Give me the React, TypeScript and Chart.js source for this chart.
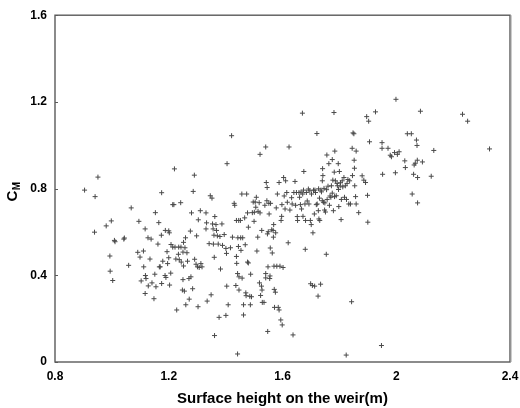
import React, { useEffect, useRef } from "react";
import { Chart, registerables } from "chart.js";

Chart.register(...registerables);

const xTitle = "Surface height on the weir(m)";
const yTitleMain = "C";
const yTitleSub = "M";
const xTicks = [0.8, 1.2, 1.6, 2, 2.4];
const yTicks = [0, 0.4, 0.8, 1.2, 1.6];

const heightValues = [
  0.904, 0.941, 0.951, 0.939, 0.980, 0.998, 1.009, 1.011, 0.993, 0.994, 1.003, 1.042, 1.044, 1.068, 1.059, 1.095, 1.091, 1.099, 1.111, 1.117,
  1.112, 1.103, 1.118, 1.120, 1.117, 1.127, 1.138, 1.134, 1.128, 1.141, 1.148, 1.153, 1.151, 1.165, 1.162, 1.155, 1.167, 1.175, 1.174, 1.170,
  1.175, 1.179, 1.188, 1.187, 1.190, 1.194, 1.196, 1.200, 1.202, 1.203, 1.207, 1.208, 1.200, 1.214, 1.218, 1.220, 1.214, 1.222, 1.225, 1.228,
  1.234, 1.237, 1.235, 1.242, 1.243, 1.244, 1.248, 1.250, 1.250, 1.252, 1.255, 1.252, 1.257, 1.259, 1.260, 1.264, 1.266, 1.271, 1.272, 1.276,
  1.278, 1.280, 1.284, 1.286, 1.290, 1.291, 1.296, 1.298, 1.301, 1.303, 1.304, 1.307, 1.311, 1.313, 1.317, 1.331, 1.331, 1.333, 1.335, 1.342,
  1.346, 1.349, 1.352, 1.354, 1.356, 1.359, 1.357, 1.361, 1.360, 1.362, 1.366, 1.368, 1.371, 1.374, 1.377, 1.380, 1.382, 1.387, 1.389, 1.395,
  1.401, 1.401, 1.403, 1.404, 1.405, 1.409, 1.417, 1.421, 1.424, 1.430, 1.432, 1.436, 1.438, 1.438, 1.439, 1.442, 1.442, 1.443, 1.445, 1.446,
  1.447, 1.447, 1.452, 1.453, 1.454, 1.457, 1.458, 1.460, 1.463, 1.463, 1.467, 1.469, 1.471, 1.472, 1.474, 1.477, 1.477, 1.480, 1.480, 1.485,
  1.487, 1.488, 1.491, 1.494, 1.497, 1.500, 1.501, 1.504, 1.506, 1.508, 1.510, 1.513, 1.514, 1.518, 1.519, 1.521, 1.521, 1.523, 1.526, 1.527,
  1.528, 1.529, 1.535, 1.538, 1.541, 1.541, 1.541, 1.543, 1.545, 1.546, 1.547, 1.548, 1.549, 1.550, 1.552, 1.553, 1.555, 1.556, 1.557, 1.558,
  1.562, 1.564, 1.567, 1.568, 1.569, 1.570, 1.571, 1.572, 1.575, 1.576, 1.578, 1.580, 1.582, 1.585, 1.588, 1.588, 1.591, 1.594, 1.595, 1.597,
  1.598, 1.599, 1.602, 1.604, 1.606, 1.609, 1.611, 1.615, 1.617, 1.620, 1.623, 1.626, 1.632, 1.634, 1.637, 1.640, 1.644, 1.646, 1.649, 1.652,
  1.653, 1.658, 1.660, 1.663, 1.665, 1.667, 1.670, 1.671, 1.672, 1.674, 1.675, 1.679, 1.680, 1.681, 1.684, 1.687, 1.691, 1.693, 1.696, 1.698,
  1.699, 1.701, 1.702, 1.705, 1.707, 1.709, 1.712, 1.713, 1.714, 1.716, 1.719, 1.721, 1.722, 1.725, 1.726, 1.727, 1.728, 1.730, 1.731, 1.734,
  1.735, 1.737, 1.740, 1.740, 1.741, 1.742, 1.744, 1.746, 1.748, 1.749, 1.751, 1.754, 1.755, 1.756, 1.757, 1.760, 1.763, 1.765, 1.767, 1.770,
  1.772, 1.775, 1.775, 1.777, 1.781, 1.779, 1.782, 1.783, 1.784, 1.786, 1.789, 1.792, 1.793, 1.796, 1.797, 1.798, 1.800, 1.803, 1.804, 1.806,
  1.807, 1.810, 1.812, 1.816, 1.818, 1.821, 1.824, 1.825, 1.827, 1.830, 1.833, 1.836, 1.839, 1.843, 1.845, 1.846, 1.848, 1.851, 1.852, 1.853,
  1.854, 1.857, 1.859, 1.859, 1.868, 1.880, 1.886, 1.892, 1.896, 1.899, 1.900, 1.903, 1.906, 1.927, 1.948, 1.950, 1.950, 1.952, 1.971, 1.979,
  1.983, 1.994, 1.997, 1.999, 2.004, 2.010, 2.030, 2.032, 2.039, 2.053, 2.056, 2.061, 2.063, 2.067, 2.071, 2.073, 2.074, 2.075, 2.075, 2.085,
  2.092, 2.123, 2.132, 2.233, 2.251, 2.328,
];

const cmValues = [
  0.793, 0.763, 0.853, 0.599, 0.628, 0.651, 0.561, 0.555, 0.489, 0.419, 0.376, 0.567, 0.572, 0.711, 0.446, 0.649, 0.506, 0.484, 0.512, 0.614,
  0.439, 0.374, 0.399, 0.385, 0.316, 0.573, 0.567, 0.475, 0.351, 0.365, 0.292, 0.689, 0.405, 0.643, 0.544, 0.347, 0.439, 0.781, 0.585, 0.439,
  0.362, 0.465, 0.607, 0.399, 0.390, 0.509, 0.454, 0.605, 0.596, 0.355, 0.410, 0.542, 0.481, 0.726, 0.726, 0.891, 0.530, 0.530, 0.475, 0.240,
  0.497, 0.472, 0.530, 0.735, 0.530, 0.461, 0.332, 0.380, 0.507, 0.443, 0.327, 0.552, 0.527, 0.573, 0.264, 0.504, 0.465, 0.385, 0.290, 0.604,
  0.393, 0.688, 0.338, 0.787, 0.862, 0.474, 0.451, 0.582, 0.439, 0.255, 0.656, 0.436, 0.698, 0.454, 0.439, 0.688, 0.614, 0.642, 0.281, 0.546,
  0.767, 0.310, 0.756, 0.637, 0.614, 0.585, 0.544, 0.122, 0.483, 0.671, 0.634, 0.607, 0.582, 0.544, 0.206, 0.579, 0.429, 0.637, 0.538, 0.588,
  0.524, 0.215, 0.501, 0.350, 0.915, 0.264, 0.527, 1.044, 0.576, 0.732, 0.723, 0.353, 0.653, 0.487, 0.455, 0.408, 0.037, 0.573, 0.533, 0.653,
  0.393, 0.332, 0.653, 0.573, 0.515, 0.775, 0.387, 0.573, 0.264, 0.217, 0.665, 0.541, 0.319, 0.306, 0.775, 0.688, 0.461, 0.622, 0.457, 0.303,
  0.264, 0.405, 0.301, 0.689, 0.738, 0.649, 0.691, 0.738, 0.714, 0.760, 0.512, 0.576, 0.695, 0.735, 0.365, 0.958, 0.688, 0.307, 0.350, 0.607,
  0.332, 0.275, 0.275, 0.723, 0.992, 0.408, 0.388, 0.828, 0.744, 0.805, 0.591, 0.141, 0.439, 0.601, 0.732, 0.683, 0.385, 0.397, 0.526, 0.732,
  0.610, 0.503, 0.607, 0.576, 0.634, 0.442, 0.335, 0.252, 0.322, 0.596, 0.711, 0.442, 0.775, 0.252, 0.828, 0.240, 0.442, 0.194, 0.653, 0.672,
  0.726, 0.171, 0.436, 0.851, 0.766, 0.706, 0.836, 0.782, 0.737, 0.550, 0.992, 0.701, 0.758, 0.729, 0.125, 0.782, 0.833, 0.723, 0.782, 0.671,
  0.653, 0.782, 0.760, 0.726, 0.784, 0.706, 1.148, 0.775, 0.672, 0.793, 0.879, 0.729, 0.520, 0.653, 0.782, 0.743, 0.798, 0.729, 0.790, 0.653,
  0.361, 0.634, 0.775, 0.353, 0.596, 0.793, 0.683, 0.350, 0.793, 0.782, 0.726, 1.054, 0.729, 0.304, 0.698, 0.799, 0.660, 0.756, 0.653, 0.359,
  0.793, 0.785, 0.744, 0.836, 0.892, 0.860, 0.737, 0.801, 0.701, 0.734, 0.692, 0.497, 0.795, 0.955, 0.750, 0.811, 0.915, 0.723, 0.766, 0.760,
  0.813, 0.934, 0.779, 0.839, 1.151, 0.698, 0.876, 0.763, 0.973, 0.836, 0.767, 0.824, 0.813, 0.915, 0.796, 0.717, 0.879, 0.812, 0.827, 0.657,
  0.750, 0.836, 0.808, 0.851, 0.760, 0.813, 0.032, 0.750, 0.824, 0.842, 0.729, 0.836, 0.729, 0.278, 0.986, 0.860, 1.057, 1.053, 0.931, 0.894,
  0.813, 0.763, 0.973, 0.729, 0.689, 0.859, 0.839, 0.828, 1.132, 0.769, 0.645, 1.111, 1.016, 1.154, 0.076, 1.012, 0.986, 0.866, 0.986, 0.954,
  0.947, 0.966, 0.873, 1.212, 0.958, 0.970, 0.928, 0.897, 1.053, 1.053, 0.775, 0.866, 0.909, 0.917, 1.024, 0.999, 0.931, 0.734, 0.851, 1.157,
  0.923, 0.857, 0.976, 1.143, 1.111, 0.983,
];

const fmt = (v: number) => String(Math.round(v * 10) / 10);

const framePlugin = {
  id: "frameAndTitle",
  afterDraw(chart: any) {
    const { ctx, chartArea } = chart;
    const { left, right, top, bottom } = chartArea;
    ctx.save();
    ctx.strokeStyle = "#5a5a5a";
    ctx.lineWidth = 1.4;
    ctx.strokeRect(left, top, right - left, bottom - top);
    ctx.lineWidth = 1;
    ctx.beginPath();
    ctx.moveTo(right + 1, top);
    ctx.lineTo(right + 1, bottom);
    ctx.strokeStyle = "#9a9a9a";
    ctx.stroke();
    // inward ticks on y axis
    const ys = chart.scales.y;
    ctx.strokeStyle = "#5a5a5a";
    ctx.lineWidth = 1;
    yTicks.forEach((t) => {
      const py = Math.round(ys.getPixelForValue(t)) + 0.5;
      ctx.beginPath();
      ctx.moveTo(left, py);
      ctx.lineTo(left + 3, py);
      ctx.stroke();
    });
    // y title with subscript
    ctx.translate(13, 192);
    ctx.rotate(-Math.PI / 2);
    ctx.fillStyle = "#000";
    ctx.textBaseline = "alphabetic";
    ctx.font = "bold 15px 'Liberation Sans', Arial, sans-serif";
    const wC = ctx.measureText(yTitleMain).width;
    ctx.font = "bold 10px 'Liberation Sans', Arial, sans-serif";
    const wM = ctx.measureText(yTitleSub).width;
    const start = -(wC + wM) / 2;
    ctx.font = "bold 15px 'Liberation Sans', Arial, sans-serif";
    ctx.fillText(yTitleMain, start, 4);
    ctx.font = "bold 10px 'Liberation Sans', Arial, sans-serif";
    ctx.fillText(yTitleSub, start + wC + 0.5, 7);
    ctx.restore();
  },
};

export default function App() {
  const canvasRef = useRef<HTMLCanvasElement | null>(null);

  useEffect(() => {
    document.body.style.margin = "0";
    const canvas = canvasRef.current;
    if (!canvas) return;
    const points = heightValues.map((x, i) => ({ x, y: cmValues[i] }));
    const tickFont = { family: "'Liberation Sans', Arial, sans-serif", size: 12, weight: "bold" as const };
    const chart = new Chart(canvas, {
      type: "scatter",
      data: {
        datasets: [
          {
            data: points,
            pointStyle: "cross",
            radius: 2.5,
            borderColor: "#4a4a4a",
            backgroundColor: "#4a4a4a",
            borderWidth: 1,
          },
        ],
      },
      options: {
        animation: false,
        responsive: false,
        devicePixelRatio: 1,
        layout: { padding: { left: 0, top: 13, right: 30, bottom: 0 } },
        plugins: { legend: { display: false }, tooltip: { enabled: false } },
        scales: {
          x: {
            type: "linear",
            min: 0.8,
            max: 2.4,
            afterBuildTicks: (s: any) => {
              s.ticks = xTicks.map((v) => ({ value: v }));
            },
            afterFit: (s: any) => {
              s.height = 46;
            },
            grid: { display: false, drawTicks: false },
            border: { display: false },
            ticks: { font: tickFont, color: "#000", padding: 7, maxRotation: 0, callback: (v: any) => fmt(Number(v)) },
            title: { display: true, text: xTitle, color: "#000", font: { family: "'Liberation Sans', Arial, sans-serif", size: 15, weight: "bold" }, padding: { top: 1, bottom: 0 } },
          },
          y: {
            type: "linear",
            min: 0,
            max: 1.6,
            afterBuildTicks: (s: any) => {
              s.ticks = yTicks.map((v) => ({ value: v }));
            },
            afterFit: (s: any) => {
              s.width = 55;
            },
            grid: { display: false, drawTicks: false },
            border: { display: false },
            ticks: { font: tickFont, color: "#000", padding: 8, callback: (v: any) => fmt(Number(v)) },
          },
        },
      },
      plugins: [framePlugin],
    });
    return () => chart.destroy();
  }, []);

  return (
    <div style={{ width: 520, height: 408, overflow: "hidden", position: "relative", background: "#fff" }}>
      <canvas ref={canvasRef} width={540} height={408} style={{ width: 540, height: 408, display: "block" }} />
    </div>
  );
}
